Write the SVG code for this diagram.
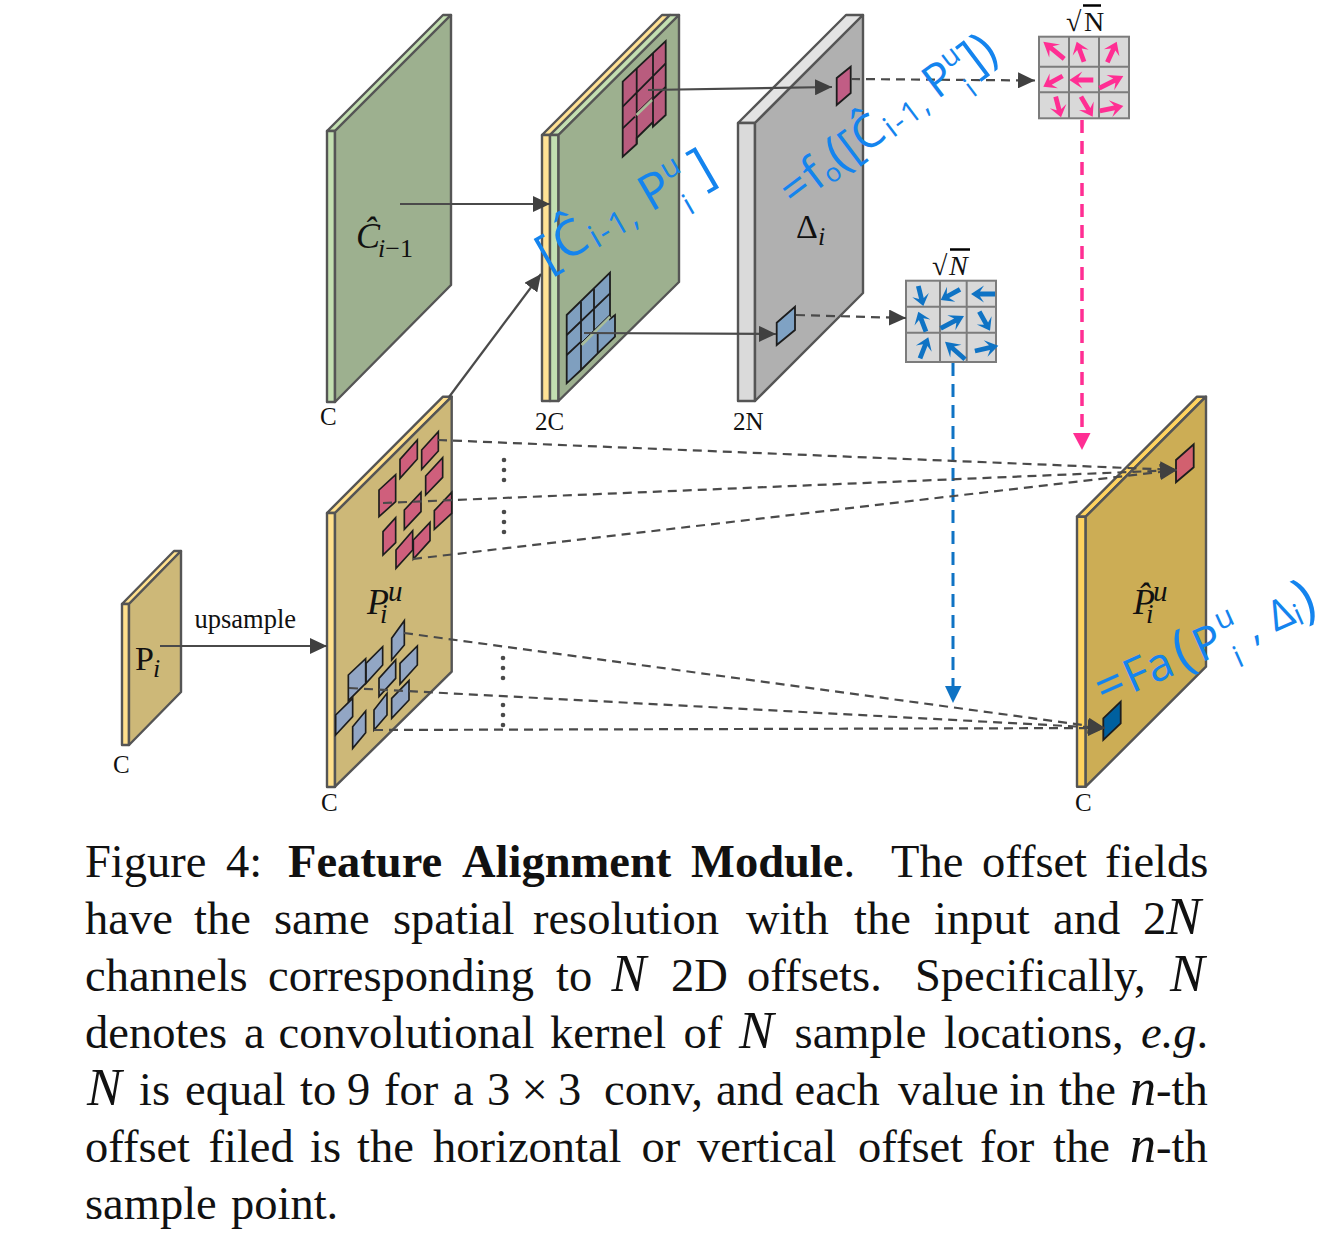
<svg xmlns="http://www.w3.org/2000/svg" width="1331" height="1239" viewBox="0 0 1331 1239">
<style>
text{font-family:"Liberation Serif","Times New Roman",serif;fill:#111}
.lbl{font-size:25px}
.it{font-style:italic}
.cap{font-size:46.5px;fill:#111}
.b{font-weight:bold}
.nn{font-style:italic;font-size:52px}
.hand{font-family:"Open Sans","Liberation Sans",sans-serif;fill:#1484EE;font-weight:400}
.pl{stroke:#555;stroke-width:2.4;stroke-linejoin:round}
.cell{fill:#D9D9D9;stroke:#7C7C7C;stroke-width:2}
.gl{fill:none;stroke:#7C7C7C;stroke-width:2}
.gr{stroke:#1d1d1d;stroke-width:1.8;fill:none}
.sol{fill:none;stroke:#4A4A4A;stroke-width:2.2;marker-end:url(#ah)}
.dsh{fill:none;stroke:#4A4A4A;stroke-width:2.2;stroke-dasharray:9 6;marker-end:url(#ah)}
.dot{fill:#4A4A4A}
</style>
<defs>
<marker id="ah" markerUnits="userSpaceOnUse" markerWidth="18" markerHeight="16" refX="17" refY="8" orient="auto"><path d="M0 0L17 8L0 16Z" fill="#404040"/></marker>
<path id="ar" d="M-24 -2.400L-9 -2.400L-13 -8.500L0 0L-13 8.500L-9 2.400L-24 2.400Z"/>
</defs>
<rect width="1331" height="1239" fill="#fff"/>

<g id="plate-c-hat">
<polygon class="pl" fill="#C3DFB1" points="327,131 443,15 451,15 335,131"/>
<rect class="pl" fill="#C3DFB1" x="327" y="131" width="8" height="271"/>
<polygon class="pl" fill="#9DB08F" points="335,131 451,15 451,285 335,402"/>
<text x="356" y="248" font-size="36" class="it">Ĉ<tspan x="378" y="257" font-size="26">i</tspan><tspan font-size="26" font-style="normal">−1</tspan></text>
<text class="lbl" x="320" y="425">C</text>
</g>

<g id="plate-concat">
<polygon class="pl" fill="#FFE295" points="542,135 662,15 670,15 550,135"/>
<polygon class="pl" fill="#C3DFB1" points="550,135 670,15 679,15 558.5,135"/>
<rect class="pl" fill="#FFE295" x="542" y="135" width="8" height="266"/>
<rect class="pl" fill="#C3DFB1" x="550" y="135" width="8.500" height="266"/>
<polygon class="pl" fill="#9DB08F" points="558.500,135 679,15 679,282 558.500,401"/>
<polygon class="gr" style="fill:#B95C7E" points="622.700,81.700 665.700,41 665.700,115 653,126.700 653,122 636.700,138 636.700,144 622.700,156.700"/>
<path class="gr" d="M636.700 68.700V144M653 53V126.700M622.700 106.700L665.700 63.300M622.700 128.300L635 116.700M653 99L665.700 87"/>
<path d="M636.500 115L652 100" stroke="#A9BD9A" stroke-width="2.500" fill="none"/>
<path d="M636 113L652 97.500" stroke="#1d1d1d" stroke-width=".8" fill="none"/>
<polygon class="gr" style="fill:#7F9FBF" points="566.700,315 610,272.700 610,319 615,315 615,336.700 597.700,353.300 581,370 566.700,383.300"/>
<path class="gr" d="M581 301.700V370M594 289V330M597.700 333V353M566.700 335L610 293.300M566.700 355L581 341.700"/>
<path d="M581.700 345L610 316.700" stroke="#A9BD9A" stroke-width="2.500" fill="none"/>
<path d="M581 343L610 314.500" stroke="#1d1d1d" stroke-width="1" fill="none"/>
<text class="lbl" x="535" y="430">2C</text>
</g>

<g id="plate-delta">
<polygon class="pl" fill="#E3E3E3" points="738,123 846,15 863,15 755,123"/>
<rect class="pl" fill="#DADADA" x="738" y="123" width="17" height="278"/>
<polygon class="pl" fill="#B0B0B0" points="755,123 863,15 863,293 755,401"/>
<polygon class="gr" style="fill:#C15D85" points="836.700,78 850.700,66.700 850.700,93 836.700,105"/>
<polygon class="gr" style="fill:#7FA2C4" points="776.700,322.700 795,306.700 795,330 776.700,345"/>
<text x="796" y="238" font-size="34">Δ<tspan x="818" y="245" font-size="26" class="it">i</tspan></text>
<text class="lbl" x="733" y="430">2N</text>
</g>

<g id="grid-magenta">
<rect class="cell" x="1039" y="36.700" width="90" height="81.600"/>
<path class="gl" d="M1069 36.700V118.300M1099 36.700V118.300M1039 66.700H1129M1039 92.300H1129"/>
<g fill="#FF2E93">
<use href="#ar" transform="translate(1043.300,41.700) rotate(-140.500) scale(1.130,1)"/>
<use href="#ar" transform="translate(1076.700,41.700) rotate(-110) scale(.890,1)"/>
<use href="#ar" transform="translate(1116.700,41.700) rotate(-65.500) scale(.940,1)"/>
<use href="#ar" transform="translate(1043.300,86.700) rotate(151) scale(.920,1)"/>
<use href="#ar" transform="translate(1069.300,80) rotate(180)"/>
<use href="#ar" transform="translate(1123.300,76) rotate(-27) scale(1.120,1)"/>
<use href="#ar" transform="translate(1061,117.300) rotate(75.600) scale(.890,1)"/>
<use href="#ar" transform="translate(1092.700,116.700) rotate(59.700) scale(.970,1)"/>
<use href="#ar" transform="translate(1123.300,106) rotate(-11.800)"/>
</g>
<path d="M1083 5.500H1101" stroke="#000" stroke-width="2.500"/>
<text x="1066" y="31" font-size="28">√<tspan x="1084">N</tspan></text>
</g>

<g id="grid-blue">
<rect class="cell" x="906" y="280.700" width="90" height="81.300"/>
<path class="gl" d="M940 280.700V362M966.700 280.700V362M906 306.700H996M906 332.700H996"/>
<g fill="#0F73C4">
<use href="#ar" transform="translate(923.300,306) rotate(76) scale(.860,1)"/>
<use href="#ar" transform="translate(940.700,300) rotate(151) scale(.920,1)"/>
<use href="#ar" transform="translate(971,294) rotate(180)"/>
<use href="#ar" transform="translate(918.300,311.700) rotate(-111) scale(.890,1)"/>
<use href="#ar" transform="translate(964,316) rotate(-27.800) scale(1.100,1)"/>
<use href="#ar" transform="translate(990,330.700) rotate(60.600) scale(.910,1)"/>
<use href="#ar" transform="translate(928.300,337.300) rotate(-68.400) scale(.940,1)"/>
<use href="#ar" transform="translate(945,341.700) rotate(-138.700) scale(1.110,1)"/>
<use href="#ar" transform="translate(998.300,345.700) rotate(-12.800)"/>
</g>
<path d="M950 249.500H970" stroke="#000" stroke-width="2.500"/>
<text x="932" y="275" font-size="28">√<tspan x="949" class="it">N</tspan></text>
</g>

<g id="plate-p">
<polygon class="pl" fill="#FFE08D" points="122,604 174,551 181,551 129,604"/>
<rect class="pl" fill="#FFE08D" x="122" y="604" width="7" height="141"/>
<polygon class="pl" fill="#CDB878" points="129,604 181,551 181,692 129,745"/>
<text x="135" y="670" font-size="34">P<tspan x="153" y="677" font-size="26" class="it">i</tspan></text>
<text class="lbl" x="113" y="773">C</text>
</g>

<g id="plate-pu">
<polygon class="pl" fill="#FFE08D" points="327,513 443,396.700 451.700,396.700 335,513"/>
<rect class="pl" fill="#FFE08D" x="327" y="513" width="8" height="274"/>
<polygon class="pl" fill="#CDB878" points="335,513 451.700,396.700 451.700,671.700 335,786.700"/>
<g transform="translate(310 390) scale(.33333)">
<g fill="#CF5F7C" stroke="#1d1d1d" stroke-width="5">
<polygon points="335,180 385,125 385,183 335,238"/>
<polygon points="270,208 322,150 322,207 270,265"/>
<polygon points="207,300 257,254 257,335 207,380"/>
<polygon points="347,258 398,203 398,262 347,315"/>
<polygon points="283,360 333,307 333,365 283,418"/>
<polygon points="373,362 425,307 425,370 373,418"/>
<polygon points="219,425 257,383 257,458 219,495"/>
<polygon points="258,480 308,422 308,480 258,535"/>
<polygon points="310,450 360,397 360,452 310,507"/>
</g>
<g fill="#92A6C4" stroke="#1d1d1d" stroke-width="5">
<polygon points="245,745 283,692 283,765 245,810"/>
<polygon points="168,820 218,770 218,825 168,880"/>
<polygon points="115,855 167,806 167,880 115,932"/>
<polygon points="207,865 257,810 257,865 207,920"/>
<polygon points="270,820 322,768 322,825 270,882"/>
<polygon points="245,925 297,872 297,930 245,985"/>
<polygon points="77,975 128,925 128,980 77,1035"/>
<polygon points="128,1010 167,963 167,1028 128,1075"/>
<polygon points="192,960 231,910 231,975 192,1020"/>
</g>
</g>
<text x="367" y="614" font-size="36" class="it">P<tspan x="388" y="601" font-size="29">u</tspan><tspan x="380" y="623" font-size="27">i</tspan></text>
<text class="lbl" x="321" y="811">C</text>
</g>

<g id="plate-out">
<polygon class="pl" fill="#FFD35F" points="1077,516.700 1197,396.700 1206,396.700 1085.700,516.700"/>
<rect class="pl" fill="#FFD35F" x="1077" y="516.700" width="8.700" height="270"/>
<polygon class="pl" fill="#CCAD55" points="1085.700,516.700 1206,396.700 1206,666.700 1085.700,786.700"/>
<polygon class="gr" style="fill:#D2606F" points="1176,460 1193.700,444.300 1193.700,467.300 1176,482.300"/>
<polygon class="gr" style="fill:#00609F" points="1103.300,718.300 1120.700,701.700 1120.700,723.300 1103.300,740"/>
<text x="1133" y="614" font-size="36" class="it">P̂<tspan x="1153" y="601" font-size="29">u</tspan><tspan x="1146" y="623" font-size="27">i</tspan></text>
<text class="lbl" x="1075" y="811">C</text>
</g>

<g id="connectors">
<path class="sol" d="M400 204H550"/>
<path class="sol" d="M449 397L541 274"/>
<path class="sol" d="M648 90L832 87"/>
<path class="sol" d="M584 333L776 334"/>
<path class="sol" d="M160 646H327"/>
<text x="194.500" y="628" font-size="26.500">upsample</text>
<path class="dsh" d="M851 79L1035 80.500"/>
<path class="dsh" d="M796 315L906 318"/>
<path fill="none" stroke="#FF2E93" stroke-width="3.500" stroke-dasharray="13 8" d="M1082 120V433"/>
<polygon fill="#FF2E93" points="1073,433 1090.500,433 1082,450"/>
<path fill="none" stroke="#0F73C4" stroke-width="3" stroke-dasharray="13 8" d="M953 363V686"/>
<polygon fill="#0F73C4" points="945,686 961.500,686 953,703"/>
<path class="dsh" d="M438 440L1177 470"/>
<path class="dsh" d="M383 503L1177 470"/>
<path class="dsh" d="M413 559L1177 470"/>
<path class="dsh" d="M404 633L1105 728"/>
<path class="dsh" d="M349 688L1105 728"/>
<path class="dsh" d="M374 730L1105 728"/>
<g class="dot">
<circle cx="504" cy="460" r="2.300"/><circle cx="504" cy="470" r="2.300"/><circle cx="504" cy="480" r="2.300"/>
<circle cx="504" cy="512" r="2.300"/><circle cx="504" cy="522" r="2.300"/><circle cx="504" cy="532" r="2.300"/>
<circle cx="503" cy="658" r="2.300"/><circle cx="503" cy="668" r="2.300"/><circle cx="503" cy="678" r="2.300"/>
<circle cx="503" cy="705" r="2.300"/><circle cx="503" cy="715" r="2.300"/><circle cx="503" cy="725" r="2.300"/>
</g>
</g>

<g id="annotations">
<text class="hand" transform="translate(548,272) rotate(-30)" font-size="50">[<tspan dx="3">Ĉ</tspan><tspan font-size="32" dx="3" dy="4" letter-spacing="2">i-1,</tspan><tspan font-size="50" dx="12" dy="-4">P</tspan><tspan font-size="30" dy="-20">u</tspan><tspan font-size="30" dx="-16" dy="42">i</tspan><tspan font-size="54" dx="18" dy="-18">]</tspan></text>
<text class="hand" transform="translate(794,208) rotate(-37)" font-size="46">=<tspan dx="2">f</tspan><tspan font-size="26" dy="4">o</tspan><tspan font-size="50" dy="-4">(</tspan>[<tspan font-size="46">Ĉ</tspan><tspan font-size="30" dx="3" dy="4" letter-spacing="2">i-1,</tspan><tspan font-size="46" dx="8" dy="-4">P</tspan><tspan font-size="28" dy="-18">u</tspan><tspan font-size="28" dx="-15" dy="38">i</tspan><tspan font-size="50" dx="8" dy="-16">])</tspan></text>
<text class="hand" transform="translate(1104,706) rotate(-24)" font-size="50">=<tspan dx="2" font-size="46">Fa</tspan><tspan font-size="56" dx="6">(</tspan><tspan font-size="46" dx="4">P</tspan><tspan font-size="30" dx="2" dy="-22">u</tspan><tspan font-size="30" dx="-16" dy="42">i</tspan><tspan font-size="40" dx="16" dy="-18">,</tspan><tspan font-size="42" dx="14">Δ</tspan><tspan font-size="30" dy="4">i</tspan><tspan font-size="56" dy="-4">)</tspan></text>
</g>

<g id="caption" class="cap">
<text class="cap" y="877"><tspan x="85">Figure</tspan><tspan x="226">4:</tspan><tspan x="288" class="b">Feature</tspan><tspan x="462" class="b">Alignment</tspan><tspan x="691" class="b">Module</tspan>.<tspan x="891">The</tspan><tspan x="982">offset</tspan><tspan x="1105">fields</tspan></text>
<text class="cap" y="934"><tspan x="85">have</tspan><tspan x="194">the</tspan><tspan x="274">same</tspan><tspan x="393">spatial</tspan><tspan x="533">resolution</tspan><tspan x="746">with</tspan><tspan x="854">the</tspan><tspan x="934">input</tspan><tspan x="1053">and</tspan><tspan x="1143">2<tspan class="nn">N</tspan></tspan></text>
<text class="cap" y="991"><tspan x="85">channels</tspan><tspan x="268">corresponding</tspan><tspan x="556">to</tspan><tspan x="611.500" class="nn">N</tspan><tspan x="671">2D</tspan><tspan x="747">offsets.</tspan><tspan x="915">Specifically,</tspan><tspan x="1170" class="nn">N</tspan></text>
<text class="cap" y="1048"><tspan x="85">denotes</tspan><tspan x="244">a</tspan><tspan x="278.600">convolutional</tspan><tspan x="550">kernel</tspan><tspan x="683.600">of</tspan><tspan x="739" class="nn">N</tspan><tspan x="794.600">sample</tspan><tspan x="944">locations,</tspan><tspan x="1141" class="it">e.g</tspan>.</text>
<text class="cap" y="1105"><tspan x="87" class="nn">N</tspan><tspan x="139">is</tspan><tspan x="185">equal</tspan><tspan x="300">to</tspan><tspan x="347">9</tspan><tspan x="384">for</tspan><tspan x="453">a</tspan><tspan x="487">3</tspan><tspan x="521.600">×</tspan><tspan x="558">3</tspan><tspan x="604">conv,</tspan><tspan x="716">and</tspan><tspan x="794.600">each</tspan><tspan x="898">value</tspan><tspan x="1009">in</tspan><tspan x="1059">the</tspan><tspan x="1130"><tspan class="nn">n</tspan>-th</tspan></text>
<text class="cap" y="1162"><tspan x="85">offset</tspan><tspan x="208.500">filed</tspan><tspan x="310">is</tspan><tspan x="357">the</tspan><tspan x="433">horizontal</tspan><tspan x="641.500">or</tspan><tspan x="697">vertical</tspan><tspan x="858">offset</tspan><tspan x="980">for</tspan><tspan x="1053">the</tspan><tspan x="1130"><tspan class="nn">n</tspan>-th</tspan></text>
<text class="cap" y="1219"><tspan x="85">sample</tspan><tspan x="231">point.</tspan></text>
</g>
</svg>
